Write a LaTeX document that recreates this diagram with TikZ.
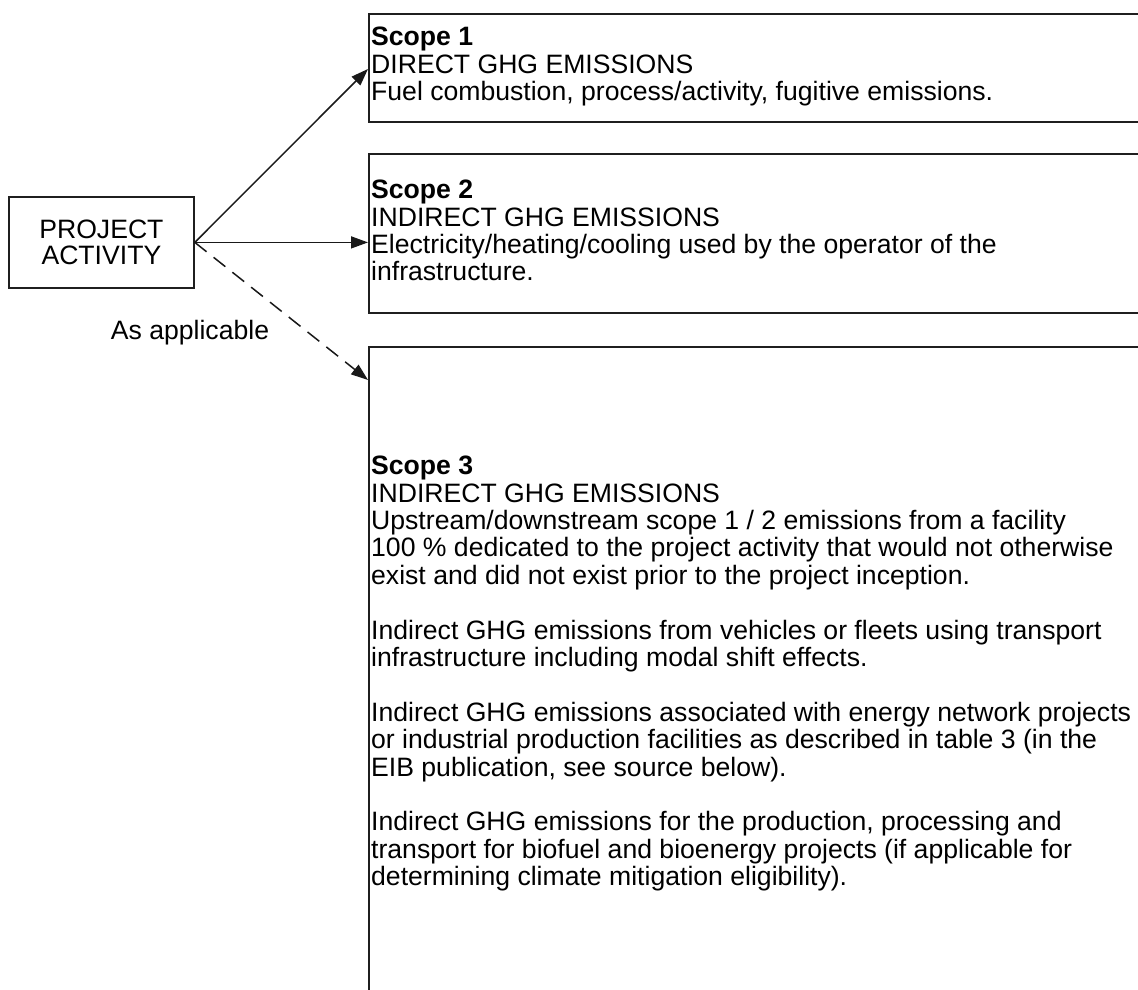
\documentclass[tikz,border=0pt]{standalone}
\usepackage{fontspec}
\setmainfont{Liberation Sans}
\usetikzlibrary{arrows.meta,calc}
\begin{document}
\begin{tikzpicture}[x=1pt,y=-1pt,
  box/.style={draw=black!88, line width=1.8pt, inner sep=0pt, anchor=north west},
  body/.style={font=\fontsize{26.6}{27.4}\selectfont},
  txt/.style={body, inner sep=0pt, anchor=north west, align=left},
  conn/.style={draw=black!90, line width=1.5pt, -{Triangle[length=17pt,width=12pt]}},
  dashconn/.style={conn, dash pattern=on 15pt off 9pt},
]
\clip (0,0) rectangle (1138,990);
\fill[white] (0,0) rectangle (1138,990);
% project activity
\node[box, body, minimum width=185pt, minimum height=91pt, align=center] (pa) at (8,196) {\raisebox{-3pt}{\shortstack{PROJECT\\[3.5pt]ACTIVITY}}};
% scope boxes
\node[box, minimum width=820pt, minimum height=108pt] (s1) at (368,13) {};
\node[box, minimum width=820pt, minimum height=159pt] (s2) at (368,153) {};
\node[box, minimum width=820pt, minimum height=700pt] (s3) at (368,346) {};
% texts
\node[txt] (t1) at (371,27) {\textbf{Scope 1}\\DIRECT GHG EMISSIONS\\Fuel combustion, process/activity, fugitive emissions.};
\node[txt] (t2) at (371,180) {\textbf{Scope 2}\\INDIRECT GHG EMISSIONS\\Electricity/heating/cooling used by the operator of the\\infrastructure.};
\node[txt] (t3) at (371,456) {\textbf{Scope 3}\\INDIRECT GHG EMISSIONS\\Upstream/downstream scope 1 / 2 emissions from a facility\\100 \% dedicated to the project activity that would not otherwise\\exist and did not exist prior to the project inception.\\[27.4pt]Indirect GHG emissions from vehicles or fleets using transport\\infrastructure including modal shift effects.\\[27.4pt]Indirect GHG emissions associated with energy network projects\\or industrial production facilities as described in table 3 (in the\\EIB publication, see source below).\\[27.4pt]Indirect GHG emissions for the production, processing and\\transport for biofuel and bioenergy projects (if applicable for\\determining climate mitigation eligibility).};
% label
\node[body, inner sep=0pt] (lab) at (190,333) {As applicable};
% connectors
\draw[conn] (pa.east) -- ($(s1.north west)+(0,56)$);
\draw[conn] (pa.east) -- (pa.east -| s2.west);
\draw[dashconn] (pa.east) -- ($(s3.north west)+(0,34)$);
\end{tikzpicture}
\end{document}
